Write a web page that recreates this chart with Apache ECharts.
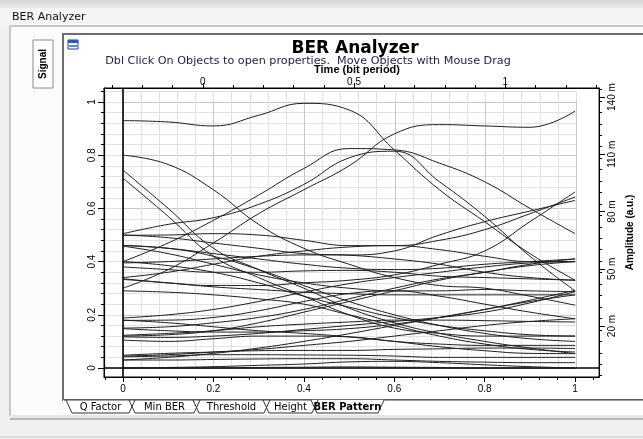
<!DOCTYPE html>
<html><head><meta charset="utf-8">
<script src="https://cdn.jsdelivr.net/npm/echarts@6/dist/echarts.min.js"></script>
<style>html,body{margin:0;padding:0;background:#f0f0f0}#c{width:643px;height:439px}</style>
</head><body><div id="c"></div>
<script>
// ---- data ----
const timeSamples = [0,0.1,0.2,0.3,0.4,0.5,0.6,0.7,0.8,0.9,1.0];
const trace01 = [0.93,0.925,0.91,0.95,0.995,0.97,0.82,0.67,0.55,0.43,0.33];
const trace02 = [0.40,0.47,0.555,0.65,0.75,0.825,0.82,0.77,0.70,0.60,0.505];
const trace03 = [0.505,0.54,0.565,0.615,0.69,0.79,0.815,0.70,0.57,0.42,0.29];
const trace04 = [0.30,0.37,0.47,0.58,0.67,0.76,0.88,0.915,0.91,0.905,0.966];
const trace05 = [0.80,0.765,0.67,0.54,0.45,0.39,0.34,0.31,0.30,0.27,0.236];
const trace06 = [0.744,0.60,0.45,0.37,0.30,0.225,0.17,0.13,0.10,0.075,0.054];
const trace07 = [0.714,0.57,0.42,0.34,0.27,0.20,0.15,0.13,0.12,0.12,0.12];
const trace08 = [0.499,0.50,0.505,0.50,0.48,0.46,0.46,0.48,0.52,0.58,0.643];
const trace09 = [0.461,0.45,0.43,0.41,0.39,0.375,0.37,0.375,0.39,0.40,0.41];
const trace10 = [0.458,0.43,0.39,0.35,0.32,0.30,0.29,0.29,0.295,0.29,0.287];
const trace11 = [0.395,0.40,0.41,0.42,0.425,0.425,0.44,0.50,0.55,0.59,0.63];
const trace12 = [0.38,0.37,0.36,0.36,0.365,0.367,0.36,0.345,0.34,0.335,0.33];
const trace13 = [0.336,0.32,0.31,0.31,0.32,0.33,0.35,0.39,0.44,0.55,0.662];
const trace14 = [0.333,0.32,0.305,0.295,0.285,0.279,0.275,0.275,0.275,0.275,0.275];
const trace15 = [0.188,0.20,0.22,0.25,0.285,0.317,0.34,0.36,0.38,0.395,0.40];
const trace16 = [0.179,0.18,0.19,0.215,0.25,0.28,0.29,0.27,0.24,0.21,0.185];
const trace17 = [0.148,0.14,0.135,0.135,0.14,0.148,0.165,0.19,0.22,0.255,0.292];
const trace18 = [0.123,0.13,0.14,0.155,0.165,0.173,0.18,0.18,0.178,0.175,0.173];
const trace19 = [0.117,0.115,0.12,0.13,0.145,0.16,0.175,0.19,0.21,0.245,0.287];
const trace20 = [0.105,0.10,0.11,0.12,0.12,0.117,0.10,0.09,0.085,0.085,0.085];
const trace21 = [0.048,0.055,0.06,0.065,0.066,0.066,0.07,0.072,0.075,0.075,0.073];
const trace22 = [0.042,0.045,0.05,0.05,0.049,0.048,0.045,0.04,0.04,0.04,0.04];
const trace23 = [0.03,0.03,0.032,0.034,0.035,0.035,0.03,0.025,0.022,0.02,0.02];
const trace24 = [0.0,0.002,0.005,0.01,0.015,0.023,0.025,0.02,0.012,0.005,0.0];
const trace25 = [0.0,0.0,0.0,0.002,0.003,0.004,0.003,0.002,0.0,0.0,0.0];
const trace26 = [0.12,0.125,0.14,0.17,0.21,0.25,0.29,0.33,0.36,0.385,0.40];
const trace27 = [0.46,0.45,0.42,0.37,0.31,0.25,0.20,0.16,0.13,0.11,0.10];
const trace28 = [0.40,0.385,0.36,0.32,0.27,0.229,0.19,0.16,0.14,0.125,0.12];
const trace29 = [0.03,0.04,0.055,0.075,0.10,0.129,0.16,0.19,0.22,0.25,0.275];
const trace30 = [0.18,0.17,0.155,0.14,0.13,0.117,0.10,0.08,0.065,0.055,0.054];
const trace31 = [0.045,0.05,0.06,0.07,0.085,0.10,0.12,0.14,0.16,0.175,0.185];
const trace32 = [0.29,0.285,0.275,0.26,0.24,0.20,0.16,0.12,0.09,0.07,0.06];
const trace33 = [0.15,0.155,0.17,0.19,0.22,0.26,0.30,0.335,0.36,0.39,0.41];
const trace34 = [0.34,0.36,0.39,0.42,0.44,0.455,0.46,0.445,0.42,0.40,0.40];
const trace35 = [0.50,0.49,0.47,0.45,0.43,0.424,0.41,0.39,0.36,0.34,0.33];
const traces = [trace01,trace02,trace03,trace04,trace05,trace06,trace07,trace08,trace09,trace10,
  trace11,trace12,trace13,trace14,trace15,trace16,trace17,trace18,trace19,trace20,
  trace21,trace22,trace23,trace24,trace25,trace26,trace27,trace28,trace29,trace30,
  trace31,trace32,trace33,trace34,trace35];

const bottomTickLabels = [0,0.2,0.4,0.6,0.8,1];
const leftTickLabels = [0,0.2,0.4,0.6,0.8,1];
const topTickLabels = [0,0.5,1];
const rightTickLabels = [20,50,80,110,140];
const tabNames = ['Q Factor','Min BER','Threshold','Height','BER Pattern'];

// ---- layout ----
const X0 = 123, XS = 453, Y0 = 368, YS = 266;
const L = 104, R = 600, T = 88, B = 377;
const xMin = (L - X0) / XS, xMax = (R - X0) / XS;
const yMin = (Y0 - B) / YS, yMax = (Y0 - T) / YS;
const TX0 = 203, TXS = 303;
const tMin = (L - TX0) / TXS, tMax = (R - TX0) / TXS;
const A0 = 364.2, AS = 1.908;
const aMin = (A0 - B) / AS, aMax = (A0 - T) / AS;

function steps(a, b, s) { const r = []; for (let v = a; v <= b + 1e-9; v += s) r.push(+v.toFixed(4)); return r; }
const minorX = steps(-0.04, 1.04, 0.04);
const minorY = steps(0, 1.04, 0.04);
const minorT = steps(-0.3, 1.3, 0.1);
const minorA = steps(-6, 144, 6);

const fontMain = 'Liberation Sans, Arial, sans-serif';
const black = '#000';

const chart = echarts.init(document.getElementById('c'), null, {renderer: 'canvas'});

const traceSeries = traces.map((t, i) => ({
  type: 'line', xAxisIndex: 0, yAxisIndex: 0, silent: true,
  data: timeSamples.map((x, j) => [x, t[j]]),
  smooth: 0.45, showSymbol: false, symbol: 'none',
  lineStyle: {color: '#1e1e1e', width: 1},
  z: 5,
  markLine: i === 0 ? {
    silent: true, symbol: 'none', label: {show: false},
    lineStyle: {color: black, width: 1.6, type: 'solid'},
    data: [{yAxis: 0}, {xAxis: 0}]
  } : undefined
}));

const tabX = [[66,135],[129,200],[193,270],[263,318],[311,384]];
const graphics = [];
graphics.push({type:'rect', z:-10, shape:{x:0,y:0,width:643,height:8}, style:{fill: new echarts.graphic.LinearGradient(0,0,0,1,[{offset:0,color:'#d6d6d6'},{offset:1,color:'#ebebeb'}])}});
graphics.push({type:'rect', z:-10, shape:{x:0,y:8,width:643,height:18}, style:{fill:'#f4f4f4'}});
graphics.push({type:'text', z:50, style:{text:'BER Analyzer', x:12, y:17, font:'11px "DejaVu Sans", sans-serif', fill:'#111', verticalAlign:'middle'}});
graphics.push({type:'rect', z:-9, shape:{x:10,y:26,width:640,height:390}, style:{fill:'#fbfbfb', stroke:'#9a9a9a', lineWidth:1}});
graphics.push({type:'rect', z:-8, shape:{x:33,y:40,width:20,height:48}, style:{fill:'#ffffff', stroke:'#8a8a8a', lineWidth:1}});
graphics.push({type:'text', z:50, rotation:Math.PI/2, x:43, y:64, style:{text:'Signal', font:'bold 10px "Liberation Sans", Arial, sans-serif', fill:'#000', align:'center', verticalAlign:'middle'}});
graphics.push({type:'rect', z:-8, shape:{x:63,y:34,width:590,height:366}, style:{fill:'#ffffff', stroke:'#6e6e6e', lineWidth:2}});
graphics.push({type:'rect', z:50, shape:{x:68,y:40,width:10,height:9}, style:{fill:'#ffffff', stroke:'#1f3fa0', lineWidth:1}});
graphics.push({type:'rect', z:51, shape:{x:68,y:40,width:10,height:3}, style:{fill:'#2a56c6'}});
graphics.push({type:'rect', z:51, shape:{x:69,y:45,width:8,height:2}, style:{fill:'#5a86e6'}});
graphics.push({type:'rect', z:-7, shape:{x:63,y:400,width:590,height:15}, style:{fill:'#ffffff'}});
graphics.push({type:'polyline', z:40, shape:{points:[[64,400],[311,400]]}, style:{stroke:'#444', lineWidth:1}});
graphics.push({type:'polyline', z:40, shape:{points:[[384,400],[643,400]]}, style:{stroke:'#444', lineWidth:1}});
tabX.forEach((p, i) => {
  graphics.push({type:'polyline', z:41, shape:{points:[[p[0],400],[p[0]+6,413],[p[1]-6,413],[p[1],400]]}, style:{stroke:'#333', lineWidth:1, fill:null}});
  graphics.push({type:'text', z:50, style:{text:tabNames[i], x:(p[0]+p[1])/2, y:407, font:(i===4?'bold ':'')+'10px "DejaVu Sans", sans-serif', fill:'#000', align:'center', verticalAlign:'middle'}});
});
graphics.push({type:'rect', z:-7, shape:{x:10,y:415,width:633,height:5}, style:{fill:'#e6e6e6'}});
graphics.push({type:'polyline', z:40, shape:{points:[[10,419],[643,419]]}, style:{stroke:'#8c8c8c', lineWidth:1}});
graphics.push({type:'rect', z:-7, shape:{x:0,y:420,width:643,height:19}, style:{fill:'#f0f0f0'}});
graphics.push({type:'polyline', z:40, shape:{points:[[0,437],[643,437]]}, style:{stroke:'#c8c8c8', lineWidth:1}});

const option = {
  animation: false,
  backgroundColor: '#f0f0f0',
  title: [
    {text:'BER Analyzer', left:350, top:35, textAlign:'center',
     textStyle:{fontFamily:'"DejaVu Sans", sans-serif', fontWeight:'bold', fontSize:17, color:'#000'}},
    {text:'Dbl Click On Objects to open properties.  Move Objects with Mouse Drag', left:303, top:51, textAlign:'center',
     textStyle:{fontFamily:'"DejaVu Sans", sans-serif', fontWeight:'normal', fontSize:11.2, color:'#1c1c48'}},
    {text:'Time (bit period)', left:352, top:59, textAlign:'center',
     textStyle:{fontFamily:fontMain, fontWeight:'bold', fontSize:11, color:black}}
  ],
  graphic: graphics,
  grid: [
    {left:L, top:T, width:R-L, height:B-T, show:true, borderColor:black, borderWidth:1, backgroundColor:'rgba(0,0,0,0)'},
    {left:X0-0.04*XS, top:Y0-1.04*YS, width:1.04*XS, height:1.04*YS},
    {left:X0, top:Y0-YS, width:XS, height:YS}
  ],
  xAxis: [
    {type:'value', gridIndex:0, min:xMin, max:xMax, position:'bottom',
     axisLine:{show:true, onZero:false, lineStyle:{color:black, width:1}},
     axisTick:{show:true, customValues:bottomTickLabels, length:5, lineStyle:{color:black}},
     axisLabel:{show:true, customValues:bottomTickLabels, margin:7, fontSize:10, color:black, fontFamily:fontMain},
     splitLine:{show:false}},
    {type:'value', gridIndex:0, min:xMin, max:xMax, position:'bottom',
     axisLine:{show:false, onZero:false},
     axisTick:{show:true, customValues:minorX, length:3, lineStyle:{color:black}},
     axisLabel:{show:false}, splitLine:{show:false}},
    {type:'value', gridIndex:0, min:tMin, max:tMax, position:'top',
     axisLine:{show:true, onZero:false, lineStyle:{color:black}},
     axisTick:{show:true, customValues:minorT, length:3, lineStyle:{color:black}},
     axisLabel:{show:true, customValues:topTickLabels, margin:1, fontSize:10, color:black, fontFamily:fontMain},
     splitLine:{show:false}},
    {type:'value', gridIndex:0, min:tMin, max:tMax, position:'top',
     axisLine:{show:false, onZero:false},
     axisTick:{show:true, customValues:topTickLabels, length:5, lineStyle:{color:black}},
     axisLabel:{show:false}, splitLine:{show:false}},
    {type:'value', gridIndex:1, min:-0.04, max:1.0, interval:0.04,
     axisLine:{show:false}, axisTick:{show:false}, axisLabel:{show:false},
     splitLine:{show:true, lineStyle:{color:'#e1e1e1', width:1}}},
    {type:'value', gridIndex:2, min:0, max:1, interval:0.2,
     axisLine:{show:false}, axisTick:{show:false}, axisLabel:{show:false},
     splitLine:{show:true, lineStyle:{color:'#c6c6c6', width:1}}}
  ],
  yAxis: [
    {type:'value', gridIndex:0, min:yMin, max:yMax, position:'left',
     axisLine:{show:true, onZero:false, lineStyle:{color:black}},
     axisTick:{show:true, customValues:leftTickLabels, length:6, lineStyle:{color:black}},
     axisLabel:{show:true, customValues:leftTickLabels, rotate:90, margin:7, fontSize:10, color:black, fontFamily:fontMain},
     splitLine:{show:false}},
    {type:'value', gridIndex:0, min:yMin, max:yMax, position:'left',
     axisLine:{show:false, onZero:false},
     axisTick:{show:true, customValues:minorY, length:3, lineStyle:{color:black}},
     axisLabel:{show:false}, splitLine:{show:false}},
    {type:'value', gridIndex:0, min:aMin, max:aMax, position:'right',
     name:'Amplitude (a.u.)', nameLocation:'middle', nameGap:24, nameRotate:90,
     nameTextStyle:{fontFamily:fontMain, fontWeight:'bold', fontSize:10, color:black},
     axisLine:{show:true, onZero:false, lineStyle:{color:black}},
     axisTick:{show:true, customValues:rightTickLabels, length:6, lineStyle:{color:black}},
     axisLabel:{show:true, customValues:rightTickLabels, rotate:90, margin:8, fontSize:10, color:black, fontFamily:fontMain,
       formatter: v => v + ' m'},
     splitLine:{show:false}},
    {type:'value', gridIndex:0, min:aMin, max:aMax, position:'right',
     axisLine:{show:false, onZero:false},
     axisTick:{show:true, customValues:minorA, length:3, lineStyle:{color:black}},
     axisLabel:{show:false}, splitLine:{show:false}},
    {type:'value', gridIndex:1, min:0, max:1.04, interval:0.04,
     axisLine:{show:false}, axisTick:{show:false}, axisLabel:{show:false},
     splitLine:{show:true, lineStyle:{color:'#e1e1e1', width:1}}},
    {type:'value', gridIndex:2, min:0, max:1, interval:0.2,
     axisLine:{show:false}, axisTick:{show:false}, axisLabel:{show:false},
     splitLine:{show:true, lineStyle:{color:'#c6c6c6', width:1}}}
  ],
  series: traceSeries
};
chart.setOption(option);
</script></body></html>
